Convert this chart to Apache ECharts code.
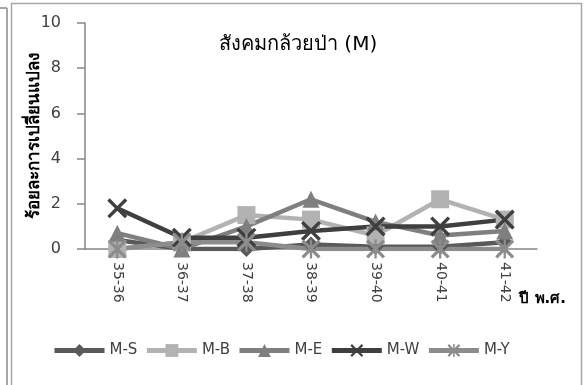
<!DOCTYPE html>
<html>
<head>
<meta charset="utf-8">
<script src="https://cdn.jsdelivr.net/npm/echarts@6/dist/echarts.min.js"></script>
<style>
	html, body { margin: 0; padding: 0; background: #fff; }
	#chart { width: 585px; height: 385px; }
</style>
</head>
<body>
<div id="chart"></div>
<script>
// ข้อมูล
var years = [ '35-36', '36-37', '37-38', '38-39', '39-40', '40-41', '41-42' ];
var yTicks = [ 0, 2, 4, 6, 8, 10 ];
var seriesNames = [ 'M-S', 'M-B', 'M-E', 'M-W', 'M-Y' ];
var mS = [ 0.4, 0, 0, 0.2, 0.1, 0.1, 0.3 ];
var mB = [ 0, 0.3, 1.5, 1.3, 0.6, 2.2, 1.3 ];
var mE = [ 0.7, 0, 1.0, 2.2, 1.2, 0.6, 0.8 ];
var mW = [ 1.8, 0.5, 0.5, 0.8, 1.0, 1.0, 1.3 ];
var mY = [ 0, 0.3, 0.3, 0, 0, 0, 0 ];

var symX = 'path://M0,1.2L1.2,0L5,3.8L8.8,0L10,1.2L6.2,5L10,8.8L8.8,10L5,6.2L1.2,10L0,8.8L3.8,5Z';
var symStar = 'path://M0,1.2L1.2,0L5,3.8L8.8,0L10,1.2L6.2,5L10,8.8L8.8,10L5,6.2L1.2,10L0,8.8L3.8,5Z'
		+ 'M4.4,0L5.6,0L5.6,10L4.4,10Z';
var fontName = 'Tahoma, "DejaVu Sans", sans-serif';

function lineSeries(name, data, color, symbol, size) {
	return {
		name : name,
		type : 'line',
		data : data,
		symbol : symbol,
		symbolSize : size,
		showAllSymbol : true,
		lineStyle : {
			color : color,
			width : 4.5
		},
		itemStyle : {
			color : color
		}
	};
}

var chart = echarts.init(document.getElementById('chart'));
chart.setOption({
	animation : false,
	title : {
		text : 'สังคมกล้วยป่า (M)',
		left : 214,
		top : 30,
		textStyle : {
			fontSize : 20,
			fontWeight : 'normal',
			color : '#000',
			fontFamily : fontName
		}
	},
	legend : {
		left : 47,
		top : 338,
		itemWidth : 50,
		itemHeight : 16,
		itemGap : 7,
		data : seriesNames,
		lineStyle : {
			width : 5
		},
		textStyle : {
			fontSize : 15,
			color : '#404040',
			fontFamily : fontName
		}
	},
	grid : {
		left : 85,
		right : 48,
		top : 23,
		height : 226
	},
	xAxis : [ {
		type : 'category',
		boundaryGap : true,
		data : years,
		name : 'ปี พ.ศ.',
		nameLocation : 'end',
		nameGap : 29,
		nameTextStyle : {
			align : 'right',
			verticalAlign : 'top',
			padding : [ 43, 0, 0, 0 ],
			fontSize : 15,
			fontWeight : 'bold',
			color : '#000',
			fontFamily : fontName
		},
		axisLine : {
			lineStyle : {
				color : '#868686',
				width : 1.5
			}
		},
		axisTick : {
			show : false
		},
		axisLabel : {
			rotate : -90,
			margin : 13,
			fontSize : 14,
			color : '#404040',
			fontFamily : fontName
		}
	} ],
	yAxis : [ {
		type : 'value',
		min : yTicks[0],
		max : yTicks[yTicks.length - 1],
		interval : 2,
		name : 'ร้อยละการเปลี่ยนแปลง',
		nameLocation : 'middle',
		nameGap : 42,
		nameMoveOverlap : false,
		nameTextStyle : {
			fontSize : 17,
			fontWeight : 'bold',
			color : '#000',
			fontFamily : fontName
		},
		axisLine : {
			show : true,
			lineStyle : {
				color : '#868686',
				width : 1.5
			}
		},
		axisTick : {
			show : true,
			length : 8,
			lineStyle : {
				color : '#868686',
				width : 1.5
			}
		},
		axisLabel : {
			margin : 24,
			fontSize : 16,
			color : '#404040',
			fontFamily : fontName
		},
		splitLine : {
			show : false
		}
	} ],
	graphic : [
		{ type : 'line', shape : { x1 : 7, y1 : 8, x2 : 7, y2 : 385 }, style : { stroke : '#a6a6a6', lineWidth : 2 } },
		{ type : 'line', shape : { x1 : 0, y1 : 8, x2 : 7, y2 : 8 }, style : { stroke : '#a6a6a6', lineWidth : 2 } },
		{ type : 'rect', shape : { x : 11.5, y : 3.5, width : 570, height : 400 }, style : { fill : 'none', stroke : '#a6a6a6', lineWidth : 1.5 } }
	],
	series : [
		lineSeries('M-S', mS, '#595959', 'diamond', 16),
		lineSeries('M-B', mB, '#b2b2b2', 'rect', 18),
		lineSeries('M-E', mE, '#7f7f7f', 'triangle', 17),
		lineSeries('M-W', mW, '#3f3f3f', symX, 20),
		lineSeries('M-Y', mY, '#8c8c8c', symStar, 19)
	]
});
</script>
</body>
</html>
